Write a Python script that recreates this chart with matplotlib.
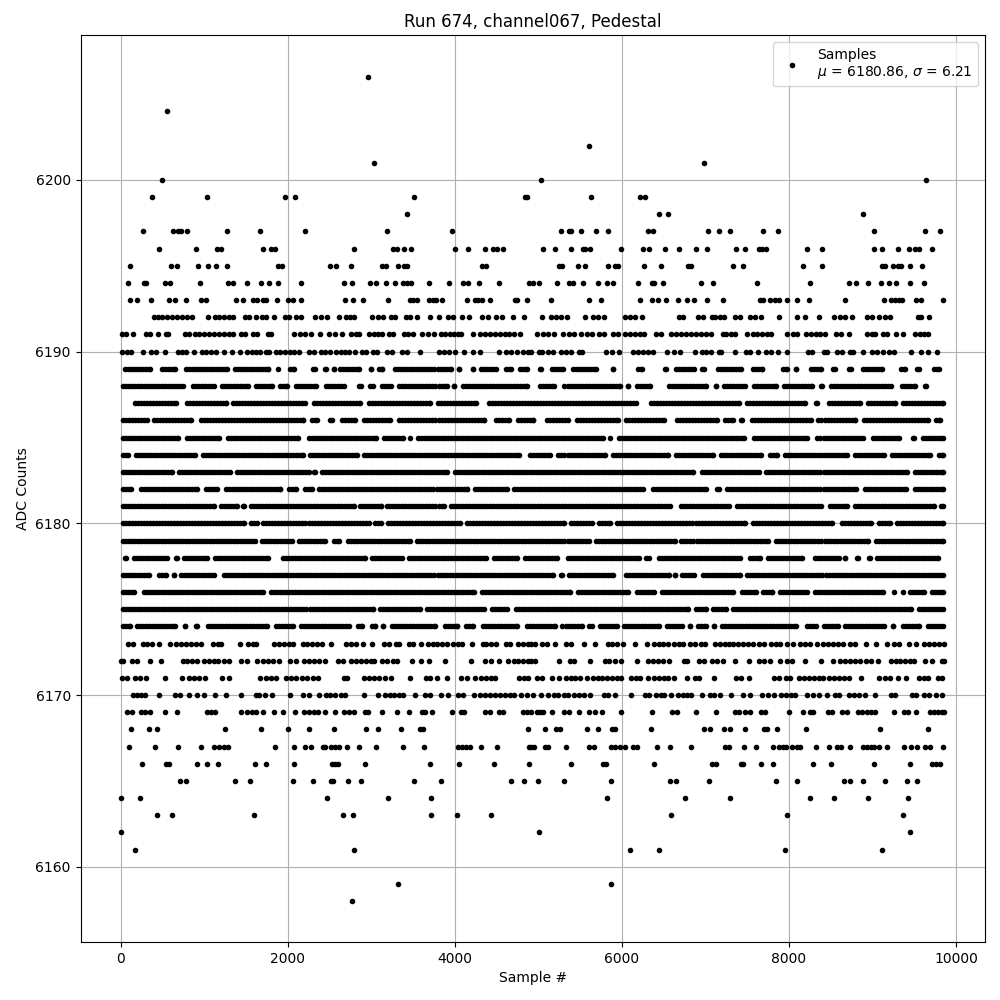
import matplotlib
matplotlib.use("Agg")
import matplotlib.pyplot as plt

# Sparse ADC levels: sample positions.
pts_6206 = [2960]
pts_6204 = [560]
pts_6202 = [5604]
pts_6201 = [3032, 6984]
pts_6200 = [500, 5028, 9636]
pts_6199 = [380, 1040, 1964, 2084, 3512, 4836, 4860, 5628, 6216, 6280]
pts_6198 = [3428, 6444, 6552, 8892]
pts_6197 = [272, 632, 692, 728, 800, 1280, 1664, 2204, 3188, 3968, 5268, 5364, 5392, 5508, 5688, 5832, 6308, 6372, 7032, 7164, 7296, 7692, 7872, 9024, 9624, 9804]
pts_6196 = [464, 908, 1160, 1200, 1700, 1800, 1848, 2792, 3260, 3312, 3392, 3476, 4004, 4160, 4364, 4460, 4508, 4580, 5052, 5196, 5388, 5532, 5564, 5616, 5988, 6252, 6324, 6516, 6684, 6888, 7020, 7368, 7476, 7644, 7680, 7720, 8220, 8400, 9024, 9120, 9300, 9440, 9504, 9552, 9708]
pts_6195 = [116, 608, 680, 932, 1052, 1148, 1280, 1880, 1928, 2504, 2576, 2756, 3128, 3176, 3320, 3392, 3428, 4328, 4376, 5244, 5280, 5472, 5556, 5832, 5916, 5952, 6264, 6468, 6792, 6828, 7332, 7452, 8172, 8400, 9120, 9156, 9240, 9300, 9336, 9444, 9588]
pts_6194 = [92, 280, 308, 532, 596, 956, 1292, 1352, 1508, 1676, 1772, 1880, 2156, 2672, 2768, 2984, 3056, 3176, 3284, 3380, 3428, 3476, 3692, 3932, 4100, 4160, 4292, 4532, 4892, 4932, 5004, 5220, 5364, 5412, 5532, 5712, 5820, 5892, 6192, 6360, 6384, 6492, 6948, 7092, 7620, 8256, 8724, 8808, 8952, 9108, 9192, 9276, 9444, 9612]
pts_6193 = [116, 200, 368, 584, 656, 784, 968, 1028, 1388, 1460, 1580, 1628, 1700, 1736, 1868, 2000, 2060, 2156, 2684, 2780, 2900, 3200, 3464, 3500, 3548, 3692, 3740, 3776, 3848, 4148, 4244, 4280, 4328, 4424, 4724, 4748, 4868, 5148, 5604, 5748, 6216, 6360, 6432, 6528, 6672, 6780, 6864, 7020, 7212, 7656, 7692, 7776, 7836, 7884, 7976, 8100, 8244, 8676, 9144, 9216, 9264, 9312, 9348, 9516, 9576, 9840]
pts_6192 = [404, 452, 500, 560, 620, 680, 740, 800, 860, 1052, 1136, 1184, 1244, 1304, 1352, 1484, 1532, 1616, 1688, 1736, 1832, 1964, 2012, 2096, 2156, 2324, 2396, 2468, 2612, 2696, 2744, 2792, 3008, 3080, 3140, 3236, 3284, 3416, 3464, 3548, 3708, 3812, 3920, 3980, 4088, 4172, 4328, 4400, 4496, 4568, 4700, 4832, 5044, 5148, 5208, 5268, 5340, 5556, 5652, 5712, 5784, 6036, 6096, 6156, 6240, 6684, 6732, 6912, 6972, 7080, 7116, 7176, 7224, 7356, 7416, 7536, 7596, 7668, 7884, 8100, 8196, 8364, 8544, 8616, 8676, 8760, 8940, 9000, 9084, 9156, 9204, 9540, 9576, 9672]
pts_6191 = [20, 68, 152, 308, 356, 452, 548, 572, 776, 824, 896, 944, 1004, 1064, 1124, 1184, 1244, 1304, 1352, 1448, 1484, 1580, 1628, 1760, 1796, 2072, 2144, 2204, 2276, 2384, 2492, 2564, 2648, 2756, 2816, 2852, 2972, 3032, 3080, 3128, 3212, 3260, 3392, 3440, 3500, 3608, 3680, 3752, 3836, 3884, 3944, 3992, 4040, 4076, 4220, 4304, 4364, 4424, 4484, 4544, 4604, 4652, 4712, 4784, 4980, 5052, 5112, 5184, 5292, 5364, 5424, 5508, 5580, 5640, 5724, 5784, 5892, 5952, 6036, 6096, 6156, 6216, 6264, 6408, 6468, 6588, 6648, 6708, 6768, 6828, 6888, 6948, 7008, 7068, 7212, 7248, 7308, 7356, 7500, 7572, 7620, 7680, 7740, 7788, 7980, 8052, 8100, 8208, 8268, 8328, 8376, 8436, 8568, 8628, 8724, 8940, 9000, 9036, 9132, 9180, 9276, 9360, 9504, 9564, 9612, 9660]
pts_6190 = [12, 76, 128, 264, 368, 428, 536, 692, 740, 788, 884, 980, 1028, 1088, 1148, 1244, 1340, 1436, 1508, 1568, 1616, 1664, 1736, 1772, 1860, 1904, 1964, 2024, 2072, 2132, 2252, 2312, 2396, 2444, 2504, 2576, 2636, 2684, 2732, 2804, 2888, 2936, 3020, 3068, 3188, 3248, 3368, 3428, 3584, 3812, 3872, 3932, 4004, 4112, 4220, 4304, 4532, 4616, 4676, 4748, 4820, 4880, 4908, 5004, 5040, 5112, 5172, 5268, 5328, 5388, 5484, 5520, 5808, 5880, 5964, 6132, 6192, 6252, 6312, 6372, 6540, 6624, 6696, 6876, 6960, 7008, 7068, 7164, 7188, 7356, 7488, 7536, 7632, 7728, 7788, 7872, 7980, 8232, 8280, 8424, 8460, 8580, 8640, 8736, 8772, 8892, 9000, 9060, 9132, 9192, 9252, 9456, 9576, 9660, 9768]
pts_6173 = [92, 152, 272, 320, 380, 464, 596, 668, 728, 788, 848, 908, 968, 1112, 1172, 1208, 1436, 1520, 1580, 1616, 1832, 1892, 1952, 2012, 2060, 2180, 2228, 2288, 2348, 2408, 2516, 2696, 2756, 2816, 2900, 3008, 3152, 3212, 3296, 3332, 3452, 3500, 3596, 3680, 3740, 3788, 3848, 3908, 3980, 4040, 4088, 4208, 4340, 4376, 4436, 4496, 4616, 4664, 4760, 4820, 4880, 4908, 4956, 5040, 5100, 5196, 5328, 5388, 5544, 5676, 5832, 5880, 5940, 6012, 6156, 6300, 6384, 6444, 6492, 6552, 6624, 6684, 6732, 6816, 6876, 6948, 6996, 7116, 7176, 7236, 7284, 7332, 7392, 7452, 7512, 7572, 7644, 7704, 7788, 7848, 7896, 7980, 8052, 8136, 8196, 8256, 8340, 8412, 8472, 8532, 8592, 8652, 8736, 8796, 8928, 9048, 9180, 9252, 9312, 9432, 9516, 9612, 9672, 9732, 9792, 9852]
pts_6172 = [0, 32, 140, 200, 356, 488, 752, 800, 860, 920, 1004, 1064, 1124, 1172, 1244, 1304, 1448, 1508, 1628, 1700, 1760, 1820, 1892, 2024, 2096, 2192, 2252, 2312, 2372, 2444, 2600, 2660, 2756, 2816, 2876, 2936, 2996, 3032, 3128, 3188, 3260, 3308, 3488, 3596, 3692, 3884, 4196, 4364, 4436, 4532, 4640, 4712, 4760, 4820, 4880, 4908, 4956, 5244, 5376, 5424, 5616, 5796, 5844, 5916, 5988, 6180, 6312, 6372, 6432, 6492, 6564, 6744, 6780, 6924, 6984, 7080, 7140, 7212, 7356, 7524, 7644, 7704, 7776, 7896, 7980, 8040, 8196, 8388, 8532, 8616, 8676, 8736, 8796, 8856, 8928, 8988, 9072, 9216, 9276, 9324, 9384, 9444, 9492, 9624, 9708, 9828, 9860]
pts_6171 = [20, 80, 176, 236, 308, 536, 740, 824, 884, 944, 1016, 1220, 1304, 1664, 1736, 1796, 1856, 1976, 2036, 2096, 2168, 2228, 2300, 2360, 2672, 2708, 2912, 2972, 3032, 3092, 3164, 3236, 3464, 3656, 3704, 3788, 3908, 4076, 4148, 4244, 4316, 4376, 4436, 4484, 4772, 4832, 4880, 4980, 5040, 5160, 5244, 5328, 5388, 5436, 5496, 5580, 5652, 5712, 5760, 5820, 5880, 5940, 5988, 6108, 6168, 6216, 6312, 6384, 6444, 6504, 6552, 6624, 6780, 6876, 6924, 7104, 7368, 7428, 7524, 7824, 7884, 7968, 8016, 8124, 8184, 8244, 8304, 8364, 8412, 8484, 8544, 8604, 8664, 8724, 8868, 9084, 9156, 9204, 9300, 9396, 9552, 9612, 9660, 9780, 9828]
pts_6170 = [152, 200, 248, 296, 464, 656, 716, 824, 920, 1004, 1136, 1268, 1448, 1616, 1652, 1724, 1808, 2024, 2180, 2252, 2372, 2456, 2504, 2564, 2636, 2684, 2912, 3080, 3164, 3224, 3272, 3332, 3380, 3524, 3644, 3704, 3836, 3920, 4040, 4100, 4232, 4304, 4364, 4424, 4484, 4544, 4604, 4664, 4712, 4796, 4868, 4932, 5028, 5112, 5184, 5232, 5304, 5352, 5424, 5484, 5544, 5624, 5784, 5832, 5916, 6112, 6276, 6324, 6408, 6468, 6504, 6588, 6672, 6732, 6780, 6828, 6960, 7056, 7104, 7176, 7308, 7452, 7536, 7680, 7752, 7824, 7908, 7968, 8028, 8076, 8220, 8292, 8364, 8460, 8556, 8604, 8724, 8784, 8844, 8916, 9036, 9216, 9264, 9468, 9516, 9612, 9672, 9756, 9828]
pts_6169 = [80, 140, 248, 296, 356, 536, 680, 1040, 1088, 1136, 1448, 1508, 1568, 1616, 1700, 1832, 1940, 2084, 2192, 2252, 2312, 2360, 2444, 2564, 2672, 2732, 2792, 2924, 2960, 3128, 3308, 3452, 3608, 3644, 3728, 3968, 4076, 4112, 4364, 4424, 4532, 4580, 4820, 4868, 4908, 4980, 5016, 5052, 5160, 5304, 5364, 5484, 5604, 5676, 5760, 5988, 6360, 6600, 6660, 6888, 7128, 7356, 7404, 7476, 7536, 7668, 7716, 8004, 8172, 8256, 8292, 8472, 8520, 8640, 8700, 8832, 8880, 8940, 8988, 9036, 9252, 9372, 9420, 9516, 9684, 9732, 9780, 9828, 9860]
pts_6168 = [128, 344, 440, 1256, 1676, 2000, 2252, 2552, 2936, 3080, 3356, 3584, 3620, 4880, 5076, 5208, 5256, 5580, 5712, 5880, 5916, 6348, 6984, 7056, 7224, 7296, 7476, 7704, 7740, 7860, 8208, 9096, 9660]
pts_6167 = [104, 416, 692, 968, 1124, 1184, 1244, 1292, 1844, 2072, 2204, 2276, 2420, 2444, 2516, 2564, 2612, 2708, 2852, 3056, 3380, 3632, 4040, 4088, 4136, 4184, 4316, 4508, 4892, 4908, 4944, 5076, 5112, 5328, 5604, 5664, 5868, 5916, 5976, 6036, 6132, 6180, 6420, 6576, 6828, 7236, 7284, 7464, 7608, 7812, 7884, 7932, 7968, 8040, 8100, 8136, 8328, 8484, 8580, 8628, 8736, 8892, 8940, 8988, 9024, 9084, 9180, 9372, 9456, 9528, 9624, 9684, 9840]
pts_6166 = [260, 548, 584, 920, 1040, 1172, 1604, 1736, 2072, 2528, 2564, 2600, 2924, 3704, 4052, 4472, 4892, 5388, 5772, 5808, 6384, 7080, 7128, 7428, 7452, 7668, 7812, 8292, 8508, 9024, 9444, 9708, 9756, 9804]
pts_6165 = [716, 788, 1376, 1544, 2060, 2300, 2516, 2540, 2720, 2876, 3512, 3836, 4676, 4832, 4992, 5304, 5868, 6576, 6648, 7044, 7848, 8100, 8664, 8736, 8892, 9156, 9408, 9528]
pts_6164 = [8, 236, 2468, 3200, 3716, 5820, 6756, 7296, 8256, 8544, 8952, 9420]
pts_6163 = [440, 620, 1592, 2660, 2780, 3716, 4028, 4436, 6588, 7980, 9360]
pts_6162 = [0, 5004, 9444]
pts_6161 = [176, 2792, 6096, 6444, 7956, 9120]
pts_6159 = [3320, 5868]
pts_6158 = [2768]

# Dense ADC levels: the solid (start, end) runs of dots as seen in the picture.
# Individual samples cannot be told apart here, so dots are placed along each run.
runs_6189 = [(20,380),(464,680),(752,1300),(1340,1800),(1860,1900),(2000,2108),(2276,2360),(2420,2484),(2520,2584),(2600,2880),(2964,3028),(3060,3160),(3260,3980),(4020,4084),(4188,4252),(4280,4520),(4580,4700),(4748,4900),(4996,5060),(5140,5332),(5380,5724),(5860,5924),(6164,6272),(6492,6564),(6620,6892),(6932,7012),(7124,7452),(7540,7712),(7900,8004),(8056,8120),(8232,8412),(8492,8580),(8692,8772),(8860,9140),(9312,9420),(9500,9592),(9704,9832)]
runs_6188 = [(0,772),(840,1148),(1188,1560),(1588,1840),(1884,2028),(2072,2372),(2428,2700),(2820,2908),(2960,3052),(3100,3268),(3308,3940),(3956,4020),(4068,4900),(4992,5220),(5284,6004),(6040,6104),(6152,6372),(6532,7032),(7092,7156),(7192,7500),(7552,7872),(7912,8312),(8360,8424),(8472,9252),(9324,9540),(9604,9668)]
runs_6187 = [(140,700),(760,1292),(1320,2240),(2280,2900),(2940,3740),(3772,4280),(4380,6204),(6320,7432),(7464,8220),(8292,8372),(8452,8884),(8912,9300),(9340,9872)]
runs_6186 = [(0,348),(372,868),(928,2220),(2260,2380),(2472,2564),(2620,2840),(2880,3260),(3308,4380),(4468,4680),(4728,4972),(5072,5380),(5432,5980),(6020,6540),(6632,7172),(7204,7364),(7392,7472),(7532,8292),(8324,8820),(8872,9692),(9732,9844)]
runs_6185 = [(0,720),(760,1212),(1260,2152),(2220,3092),(3120,3412),(3440,3492),(3528,5804),(5832,5892),(5932,7492),(7552,8252),(8312,8912),(8980,9352),(9460,9524),(9572,9870)]
runs_6184 = [(0,120),(152,920),(960,2220),(2240,2860),(2880,4800),(4872,5172),(5212,5832),(5860,6580),(6620,7116),(7156,7692),(7744,7892),(7924,8724),(8764,9172),(9204,9724),(9772,9870)]
runs_6183 = [(0,652),(668,1340),(1360,2280),(2288,2352),(2380,3940),(3968,6880),(6932,7672),(7700,9444),(9484,9870)]
runs_6182 = [(0,160),(212,948),(988,1188),(1228,1940),(1988,2128),(2180,2320),(2348,4180),(4212,4652),(4680,6284),(6340,7032),(7112,7192),(7232,8832),(8884,9432),(9484,9870)]
runs_6181 = [(0,1148),(1172,1428),(1440,1504),(1532,2820),(2832,3148),(3164,3900),(3920,6604),(6680,7312),(7352,8420),(8460,8724),(8764,9764),(9792,9870)]
runs_6180 = [(0,1508),(1528,1660),(1680,3000),(3020,3148),(3168,4092),(4120,5340),(5364,5672),(5700,5892),(5916,7500),(7540,8540),(8600,9012),(9044,9236),(9268,9870)]
runs_6179 = [(0,1640),(1660,2080),(2108,2480),(2520,2640),(2692,3500),(3520,5632),(5660,6664),(6684,7780),(7820,8972),(9012,9870)]
runs_6178 = [(28,92),(132,588),(640,704),(728,1060),(1100,1792),(1912,2960),(2980,3400),(3420,4400),(4440,4780),(4812,5252),(5320,6232),(6260,6352),(6412,7444),(7500,7684),(7720,8192),(8284,8632),(8640,8704),(8788,8852),(8932,8996),(9020,9820)]
runs_6177 = [(0,372),(428,572),(608,672),(692,1148),(1208,5212),(5248,5312),(5332,5924),(6020,6592),(6608,6672),(6692,6892),(6940,7444),(7472,9870)]
runs_6176 = [(0,188),(252,1732),(1768,4260),(4292,5412),(5440,6100),(6156,6420),(6452,7364),(7412,7632),(7660,7832),(7860,8244),(8284,9152),(9232,9292),(9332,9392),(9420,9644),(9684,9870)]
runs_6175 = [(0,3052),(3080,3612),(3640,4380),(4420,4652),(4700,6820),(6852,7032),(7060,7276),(7300,9492),(9524,9870)]
runs_6174 = [(0,140),(172,680),(740,804),(868,940),(1020,1780),(1828,2100),(2128,2760),(2812,2920),(2980,3080),(3108,3172),(3220,3800),(3848,4060),(4100,4252),(4308,4780),(4840,5232),(5260,5552),(5580,5672),(5712,5972),(5992,6472),(6512,6752),(6784,6848),(6880,7032),(7072,7136),(7172,8112),(8192,8352),(8392,8612),(8644,9172),(9212,9276),(9340,9592),(9632,9870)]

sparse_levels = {
    6206: pts_6206, 6204: pts_6204, 6202: pts_6202, 6201: pts_6201, 6200: pts_6200,
    6199: pts_6199, 6198: pts_6198, 6197: pts_6197, 6196: pts_6196, 6195: pts_6195,
    6194: pts_6194, 6193: pts_6193, 6192: pts_6192, 6191: pts_6191, 6190: pts_6190,
    6173: pts_6173, 6172: pts_6172, 6171: pts_6171, 6170: pts_6170, 6169: pts_6169,
    6168: pts_6168, 6167: pts_6167, 6166: pts_6166, 6165: pts_6165, 6164: pts_6164,
    6163: pts_6163, 6162: pts_6162, 6161: pts_6161, 6159: pts_6159, 6158: pts_6158,
}
dense_levels = {
    6189: runs_6189, 6188: runs_6188, 6187: runs_6187, 6186: runs_6186,
    6185: runs_6185, 6184: runs_6184, 6183: runs_6183, 6182: runs_6182,
    6181: runs_6181, 6180: runs_6180, 6179: runs_6179, 6178: runs_6178,
    6177: runs_6177, 6176: runs_6176, 6175: runs_6175, 6174: runs_6174,
}

xs, ys = [], []
for level, positions in sparse_levels.items():
    xs.extend(positions)
    ys.extend([level] * len(positions))

# Run ends were read at the outer edge of the dots, about 30 samples past the centre.
for level, runs in dense_levels.items():
    for start, end in runs:
        a, b = start + 30, end - 30
        if b < a:
            a = b = (start + end) // 2
        positions = list(range(a, b, 36)) + [b]
        xs.extend(positions)
        ys.extend([level] * len(positions))

fig, ax = plt.subplots(figsize=(10, 10), dpi=100)
ax.plot(xs, ys, "k.", linestyle="none", label="Samples\n$\\mu$ = 6180.86, $\\sigma$ = 6.21", zorder=3)
ax.set_xlim(-479, 10347)
ax.set_ylim(6155.62, 6208.44)
ax.set_title("Run 674, channel067, Pedestal")
ax.set_xlabel("Sample #")
ax.set_ylabel("ADC Counts")
ax.grid(True)
ax.legend(loc="upper right")
fig.subplots_adjust(left=0.0805, right=0.985, top=0.965, bottom=0.058)
fig.savefig("out.png", dpi=100)
